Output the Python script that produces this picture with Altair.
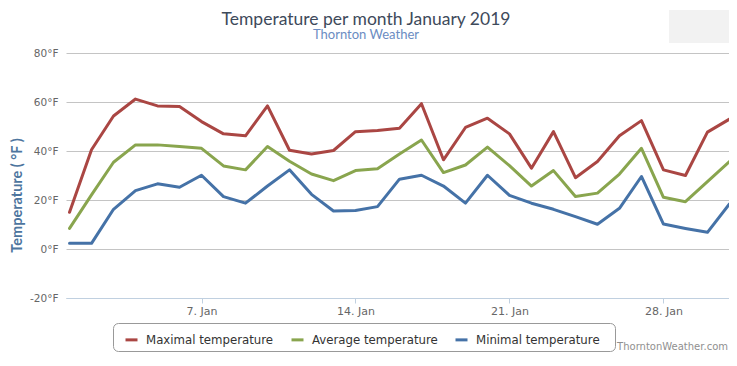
import altair as alt
import pandas as pd

# ---- data ----
days = list(range(1, 32))
max_temp = [15.0, 40.5, 54.3, 61.2, 58.4, 58.2, 52.0, 47.0, 46.2, 58.4, 40.3,
            38.8, 40.2, 47.9, 48.4, 49.3, 59.3, 36.4, 49.6, 53.4, 47.0,
            33.0, 47.9, 29.1, 35.7, 46.2, 52.4, 32.3, 30.0, 47.7, 53.0]
avg_temp = [8.4, 22.1, 35.4, 42.5, 42.5, 41.8, 41.1, 33.9, 32.3, 41.8, 35.8,
            30.6, 27.9, 32.0, 32.8, 38.8, 44.5, 31.2, 34.3, 41.6, 34.0,
            25.7, 32.0, 21.4, 22.8, 30.6, 41.1, 21.1, 19.3, 27.5, 35.7]
min_temp = [2.3, 2.3, 16.2, 23.8, 26.6, 25.2, 30.1, 21.4, 18.7, 25.7, 32.3,
            22.3, 15.5, 15.7, 17.3, 28.5, 30.1, 25.7, 18.7, 30.1, 21.9,
            18.7, 16.2, 13.2, 10.1, 16.6, 29.6, 10.2, 8.4, 6.8, 18.4]
series_names = ["Maximal temperature", "Average temperature", "Minimal temperature"]
series_colors = ["#AA4643", "#89A54E", "#4572A7"]
x_ticks = [7, 14, 21, 28]
y_ticks = [-20, 0, 20, 40, 60, 80]
title_text = ["Temperature per month January 2019"]
subtitle_text = ["Thornton Weather"]
credit_text = ["ThorntonWeather.com"]

rows = []
for name, vals in zip(series_names, [max_temp, avg_temp, min_temp]):
    for d, v in zip(days, vals):
        rows.append({"day": d, "temp": v, "series": name})
df = pd.DataFrame(rows)

W, H = 663, 245

lines = alt.Chart(df).mark_line(strokeWidth=3, strokeJoin="round", strokeCap="round").encode(
    x=alt.X("day:Q",
            scale=alt.Scale(domain=[0.84, 30.98], nice=False, zero=False),
            axis=alt.Axis(values=x_ticks, labelExpr="datum.value + '. Jan'", title=None,
                          grid=False, domainColor="#C0D0E0", tickColor="#C0D0E0",
                          tickSize=5, labelColor="#666666", labelFont="DejaVu Sans",
                          labelFontSize=11, labelPadding=2)),
    y=alt.Y("temp:Q",
            scale=alt.Scale(domain=[-20, 80], nice=False, zero=False),
            axis=alt.Axis(values=y_ticks, labelExpr="datum.value + '°F'",
                          title="Temperature ( °F )", titleColor="#4d759e", titleFont="Lato",
                          titleFontSize=14.5, titleFontWeight="bold", titleAngle=270,
                          titleX=-49, titleY=142, titleAlign="center", titleBaseline="middle",
                          domain=False, ticks=False, grid=True, gridColor="#C4C4C4",
                          labelColor="#666666", labelFont="DejaVu Sans", labelFontSize=10.5,
                          labelPadding=8)),
    color=alt.Color("series:N",
                    scale=alt.Scale(domain=series_names, range=series_colors),
                    legend=alt.Legend(orient="none", legendX=58, legendY=279,
                                      direction="horizontal", title=None,
                                      symbolType="stroke", symbolStrokeWidth=3,
                                      symbolSize=144, labelFont="DejaVu Sans",
                                      labelFontSize=11.75, labelColor="#333333",
                                      labelOffset=7, columnPadding=11, padding=0,
                                      labelLimit=300)),
)

legend_box = alt.Chart(pd.DataFrame({"k": [0]})).mark_rect(
    fill="transparent", stroke="#999999", strokeWidth=1, cornerRadius=5
).encode(x=alt.value(47.5), x2=alt.value(549.5), y=alt.value(270.5), y2=alt.value(298.5))

export_box = alt.Chart(pd.DataFrame({"k": [0]})).mark_rect(fill="#f2f2f2").encode(
    x=alt.value(603), x2=alt.value(670), y=alt.value(-43), y2=alt.value(-10))

title = alt.Chart(pd.DataFrame({"t": title_text})).mark_text(
    align="center", baseline="alphabetic", fontSize=17.5, font="Lato", color="#3e4a5b"
).encode(x=alt.value(300), y=alt.value(-28), text="t:N")

subtitle = alt.Chart(pd.DataFrame({"t": subtitle_text})).mark_text(
    align="center", baseline="alphabetic", fontSize=13, font="Lato", color="#6b8cc2"
).encode(x=alt.value(300), y=alt.value(-14), text="t:N")

credit = alt.Chart(pd.DataFrame({"t": credit_text})).mark_text(
    align="right", baseline="alphabetic", fontSize=10, font="DejaVu Sans", color="#909090"
).encode(x=alt.value(662), y=alt.value(297), text="t:N")

chart = alt.layer(export_box, legend_box, lines, title, subtitle, credit).properties(
    width=W, height=H,
    autosize=alt.AutoSizeParams(type="none"),
    padding={"left": 58, "top": 45, "right": 0, "bottom": 54},
).configure_view(stroke=None)

chart.save("out.html", embed_options={"renderer": "svg", "actions": False})
